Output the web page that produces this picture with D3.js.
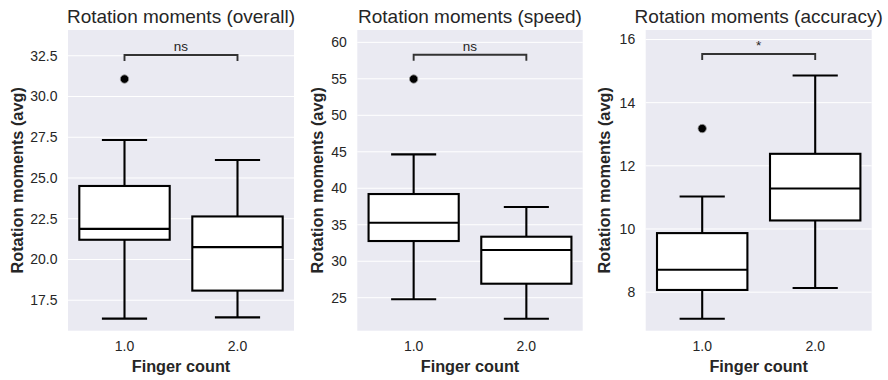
<!DOCTYPE html>
<html>
<head>
<meta charset="utf-8">
<script src="https://cdn.jsdelivr.net/npm/d3@7"></script>
<style>
  html, body { margin: 0; padding: 0; background: #ffffff; }
  svg { display: block; font-family: "Liberation Sans", Arial, sans-serif; }
</style>
</head>
<body>
<svg id="chart" width="888" height="380"></svg>
<script>
// ---------- data ----------
const categories = ["1.0", "2.0"];
const panelTitles = ["Rotation moments (overall)", "Rotation moments (speed)", "Rotation moments (accuracy)"];
const xLabel = "Finger count";
const yLabel = "Rotation moments (avg)";

// five-number summaries per category: [lowWhisker, q1, median, q3, highWhisker]
const overallBoxes = [[16.37, 21.21, 21.88, 24.51, 27.33], [16.45, 18.09, 20.76, 22.64, 26.10]];
const speedBoxes = [[24.78, 32.77, 35.28, 39.21, 44.64], [22.12, 26.92, 31.54, 33.36, 37.43]];
const accuracyBoxes = [[7.16, 8.07, 8.71, 9.87, 11.03], [8.13, 10.27, 11.28, 12.38, 14.86]];

const overallOutliers = [[31.07], []];
const speedOutliers = [[54.97], []];
const accuracyOutliers = [[13.18], []];

const overallTicks = [17.5, 20, 22.5, 25, 27.5, 30, 32.5];
const speedTicks = [25, 30, 35, 40, 45, 50, 55, 60];
const accuracyTicks = [8, 10, 12, 14, 16];

const overallDomain = [15.63, 34.08];
const speedDomain = [20.48, 61.69];
const accuracyDomain = [6.78, 16.30];

const significance = ["ns", "ns", "*"];
const bracketLevels = [32.55, 58.3, 15.54];

// ---------- layout ----------
const svg = d3.select("#chart");
const plotTop = 30, plotBottom = 330.7;
const panels = [
  { x0: 68, x1: 294, boxes: overallBoxes, outliers: overallOutliers, ticks: overallTicks, domain: overallDomain, fmt: d3.format(".1f"), labelX: 22.5 },
  { x0: 357.3, x1: 582.7, boxes: speedBoxes, outliers: speedOutliers, ticks: speedTicks, domain: speedDomain, fmt: d3.format("d"), labelX: 323 },
  { x0: 645.7, x1: 871.7, boxes: accuracyBoxes, outliers: accuracyOutliers, ticks: accuracyTicks, domain: accuracyDomain, fmt: d3.format("d"), labelX: 610 }
];
const textColor = "#262626";

panels.forEach((p, i) => {
  const x = d3.scaleBand().domain(categories).range([p.x0, p.x1]).paddingInner(0).paddingOuter(0);
  const y = d3.scaleLinear().domain(p.domain).range([plotBottom, plotTop]);
  const g = svg.append("g");

  // background
  g.append("rect").attr("x", p.x0).attr("y", plotTop).attr("width", p.x1 - p.x0).attr("height", plotBottom - plotTop).attr("fill", "#eaeaf2");

  // y axis
  const yAxis = d3.axisLeft(y).tickValues(p.ticks).tickFormat(p.fmt).tickSize(0).tickPadding(10.5);
  const ya = g.append("g").attr("transform", `translate(${p.x0},0)`).call(yAxis);
  ya.select(".domain").remove();
  ya.selectAll("text").attr("fill", textColor).style("font-size", "14px").style("font-family", "'Liberation Sans', Arial, sans-serif");

  // grid
  g.append("g").selectAll("line").data(p.ticks).join("line")
    .attr("x1", p.x0).attr("x2", p.x1)
    .attr("y1", d => y(d)).attr("y2", d => y(d))
    .attr("stroke", "#ffffff").attr("stroke-width", 1);

  // x axis
  const xAxis = d3.axisBottom(x).tickSize(0).tickPadding(10);
  const xa = g.append("g").attr("transform", `translate(0,${plotBottom})`).call(xAxis);
  xa.select(".domain").remove();
  xa.selectAll("text").attr("fill", textColor).style("font-size", "14px").style("font-family", "'Liberation Sans', Arial, sans-serif");

  // boxes
  const bw = x.bandwidth() * 0.8;
  const capW = bw / 2;
  categories.forEach((c, j) => {
    const [lo, q1, med, q3, hi] = p.boxes[j];
    const cx = x(c) + x.bandwidth() / 2;
    const line = (x1, y1, x2, y2) => g.append("line").attr("x1", x1).attr("y1", y1).attr("x2", x2).attr("y2", y2)
      .attr("stroke", "#000").attr("stroke-width", 2.1);
    line(cx, y(q3), cx, y(hi));
    line(cx, y(q1), cx, y(lo));
    line(cx - capW / 2, y(hi), cx + capW / 2, y(hi));
    line(cx - capW / 2, y(lo), cx + capW / 2, y(lo));
    g.append("rect").attr("x", cx - bw / 2).attr("y", y(q3)).attr("width", bw).attr("height", y(q1) - y(q3))
      .attr("fill", "#fff").attr("stroke", "#000").attr("stroke-width", 2.1);
    line(cx - bw / 2, y(med), cx + bw / 2, y(med));
    p.outliers[j].forEach(v => {
      g.append("circle").attr("cx", cx).attr("cy", y(v)).attr("r", 4.2)
        .attr("fill", "#000").attr("stroke", "#9a9a9a").attr("stroke-width", 0.8);
    });
  });

  // significance bracket
  const bx1 = x(categories[0]) + x.bandwidth() / 2;
  const bx2 = x(categories[1]) + x.bandwidth() / 2;
  const by = y(bracketLevels[i]);
  g.append("path").attr("d", `M${bx1},${by + 6}V${by}H${bx2}V${by + 6}`)
    .attr("fill", "none").attr("stroke", "#333333").attr("stroke-width", 1.9);
  g.append("text").attr("x", (bx1 + bx2) / 2).attr("y", by - 4).attr("text-anchor", "middle")
    .attr("fill", textColor).style("font-size", "13.5px").text(significance[i]);

  // title
  g.append("text").attr("x", (p.x0 + p.x1) / 2).attr("y", 22.5).attr("text-anchor", "middle")
    .attr("fill", textColor).style("font-size", "19px").text(panelTitles[i]);

  // x label
  g.append("text").attr("x", (p.x0 + p.x1) / 2).attr("y", 371.5).attr("text-anchor", "middle")
    .attr("fill", textColor).style("font-size", "16.3px").style("font-weight", "bold").text(xLabel);

  // y label
  g.append("text").attr("transform", `translate(${p.labelX},${(plotTop + plotBottom) / 2}) rotate(-90)`)
    .attr("text-anchor", "middle").attr("fill", textColor)
    .style("font-size", "16.3px").style("font-weight", "bold").text(yLabel);
});
</script>
</body>
</html>
